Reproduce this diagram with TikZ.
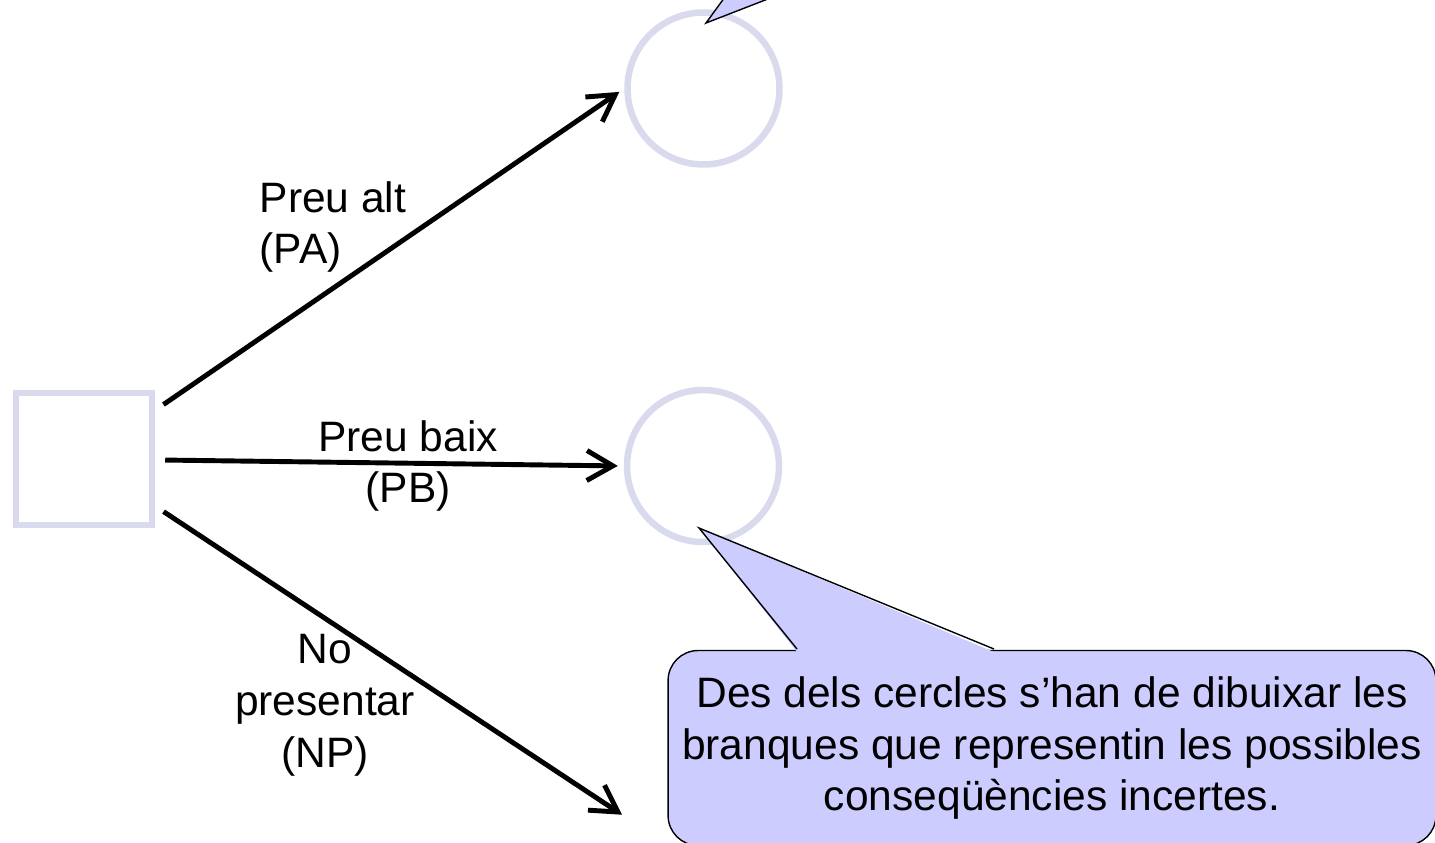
\documentclass[tikz,border=0pt]{standalone}
\usepackage{fontspec}
\setmainfont{Liberation Sans}
\usepackage{xcolor}
\usetikzlibrary{positioning,arrows.meta}
\definecolor{nodeline}{RGB}{218,218,238}
\definecolor{notefill}{RGB}{204,204,255}

\begin{document}
\begin{tikzpicture}[x=0.02cm, y=-0.02cm,
	every node/.style={font=\fontsize{24.2}{29.5}\selectfont},
	branch/.style={-{Straight Barb[length=0.52cm,width=0.6cm]}, line width=2.8pt, shorten <=0.2cm, shorten >=0.12cm},
	notebox/.style={draw, fill=notefill, line width=0.8pt, rounded corners=0.6cm, align=center, inner sep=0pt, minimum width=15.36cm, minimum height=3.9cm}]
	\clip (0,0) rectangle (1435,842);

	\begin{scope}[every node/.style={draw=nodeline, line width=0.13cm}]
	    \node[rectangle, minimum width=2.72cm, minimum height=2.64cm] (dec) at (84,459) {};
	    \node[circle, minimum size=3.04cm] (alt) at (703.5,88.5) {};
	    \node[circle, minimum size=3.04cm] (baix) at (703,466) {};
	\end{scope}
	\coordinate (np) at (627,818);

	\draw [branch] (dec) -- (alt.west);
	\draw [branch] (dec) -- (baix.west);
	\draw [branch] (dec) -- (np);

	\node[align=left] (lpa) at (333,227) {Preu alt\\(PA)};
	\node[align=center] (lpb) at (408,466) {Preu baix\\(PB)};
	\node[align=center] (lnp) at (325,705) {No\\presentar\\(NP)};

	% callout cut off at the top
	\coordinate (tipa) at (706,23);
	\fill[notefill] (730,-10) -- (tipa) -- (791,-10) -- cycle;
	\draw[line width=0.8pt] (730,-10) -- (tipa) -- (791,-10);

	% callout below
	\node[notebox] (note) at (1052,748) {Des dels cercles s’han de dibuixar les\\branques que representin les possibles\\conseqüències incertes.};
	\coordinate (tipb) at (699,528);
	\fill[notefill] (797,652) -- (tipb) -- (994,652) -- cycle;
	\draw[line width=0.8pt] (797,649) -- (tipb) -- (994,649);

\end{tikzpicture}
\end{document}
